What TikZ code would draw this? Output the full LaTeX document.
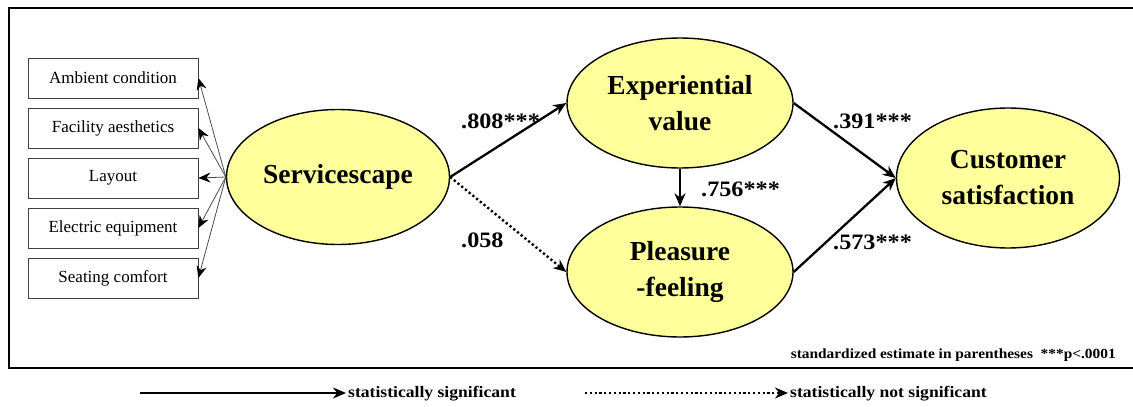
\documentclass[tikz,border=0pt]{standalone}
\usepackage{fontspec}
\setmainfont{Liberation Serif}
\newfontfamily\wideserif[FakeStretch=1.1]{Liberation Serif}
\usetikzlibrary{shapes.geometric,arrows.meta}
\definecolor{fillyel}{RGB}{255,255,155}
\tikzset{
  construct/.style={ellipse, draw=black, line width=1.4pt, fill=fillyel, inner sep=0pt,
    align=center, font=\fontsize{27.5}{36}\selectfont\bfseries},
  indicator/.style={draw=black!75, line width=0.8pt, minimum width=170pt, minimum height=40pt,
    inner sep=0pt, font=\fontsize{17}{20}\selectfont},
  thinarrow/.style={draw=black!70, line width=0.8pt, -{Stealth[length=12pt,width=10pt,color=black,fill=black]}},
  sig/.style={line width=2.3pt, -{Stealth[length=13pt,width=11pt]}},
  nonsig/.style={line width=2.4pt, dash pattern=on 2.2pt off 2.6pt, -{Stealth[length=13pt,width=11pt,sep=0pt]}},
  coef/.style={anchor=west, inner sep=0pt, font=\wideserif\fontsize{22}{26}\selectfont\bfseries},
  legendtext/.style={anchor=west, inner sep=0pt, font=\wideserif\fontsize{16}{19}\selectfont\bfseries}
}
\begin{document}
\begin{tikzpicture}[x=1pt,y=-1pt]
\useasboundingbox (0,0) rectangle (1133,407);
\clip (0,0) rectangle (1133,407);
% frame
\draw[line width=2.8pt] (9,8) rectangle (1150,368);
% indicator boxes
\node[indicator] (b1) at (113,78) {Ambient condition};
\node[indicator] (b2) at (113,128) {Facility aesthetics};
\node[indicator] (b3) at (113,178) {Layout};
\node[indicator] (b4) at (113,228) {Electric equipment};
\node[indicator] (b5) at (113,278) {Seating comfort};
% constructs
\node[construct, minimum width=223pt, minimum height=135pt] (serv) at (338,177) {Servicescape};
\node[construct, minimum width=226pt, minimum height=130pt] (exp) at (680,103) {Experiential\\value};
\node[construct, minimum width=226pt, minimum height=130pt] (pleas) at (680,272) {Pleasure\\-feeling};
\node[construct, minimum width=223pt, minimum height=140pt] (cust) at (1008,178) {Customer\\satisfaction};
% indicator arrows
\foreach \b in {b1,b2,b3,b4,b5} \draw[thinarrow] (serv.west) -- (\b.east);
% paths
\draw[sig] (serv.east) -- (exp.west);
\draw[nonsig] (serv.east) -- (pleas.west);
\draw[sig] (exp.south) -- (pleas.north);
\draw[sig] (exp.east) -- (cust.west);
\draw[sig] (pleas.east) -- (cust.west);
% coefficients
\node[coef] (c1) at (461,121) {.808***};
\node[coef] (c2) at (461,240) {.058};
\node[coef] (c3) at (701,189) {.756***};
\node[coef] (c4) at (833,121) {.391***};
\node[coef] (c5) at (833,242) {.573***};
% note
\node[anchor=east, inner sep=0pt, font=\wideserif\fontsize{14}{16}\selectfont\bfseries] (note) at (1116,355) {standardized estimate in parentheses\ \ ***p<.0001};
% legend
\coordinate (l1s) at (140,393);
\coordinate (l1e) at (346,393);
\coordinate (l2s) at (585,393);
\coordinate (l2e) at (788,393);
\draw[sig] (l1s) -- (l1e);
\node[legendtext] (t1) at (348,394) {statistically significant};
\draw[nonsig] (l2s) -- (l2e);
\node[legendtext] (t2) at (790,394) {statistically not significant};
\end{tikzpicture}
\end{document}
